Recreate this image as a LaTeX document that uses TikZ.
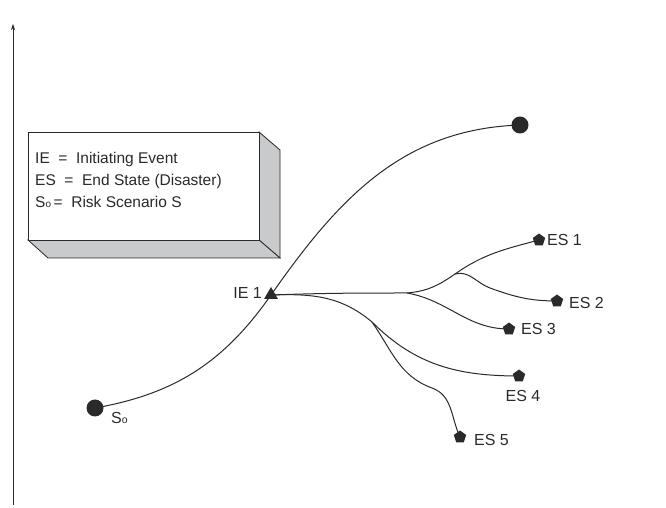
\documentclass[tikz,border=0pt]{standalone}
\usepackage{fontspec}
\setmainfont{Liberation Sans}
\usetikzlibrary{shapes.geometric,arrows.meta}
\definecolor{ink}{HTML}{2A2A2A}
\definecolor{side}{HTML}{C9CACC}
\tikzset{
  conn/.style={draw=ink, line width=1pt},
  dotnode/.style={circle, fill=ink, inner sep=0pt, minimum size=17pt},
  esnode/.style={regular polygon, regular polygon sides=5, fill=ink, inner sep=0pt, minimum size=13pt},
  ienode/.style={regular polygon, regular polygon sides=3, fill=ink, inner sep=0pt, minimum size=16pt},
  lbl/.style={font=\fontsize{16}{18}\selectfont, text=ink, inner sep=0pt},
}
\begin{document}
\begin{tikzpicture}[x=1pt,y=1pt]
\useasboundingbox (0,0) rectangle (666,508);
% axis
\draw[ink, line width=0.8pt, -{Stealth[length=6pt,width=4pt]}] (13,3) -- (13,484);
% legend box
\filldraw[fill=side, draw=ink, line width=0.8pt] (259,376) -- (280,358) -- (280,250) -- (259,268) -- cycle;
\filldraw[fill=side, draw=ink, line width=0.8pt] (28,268) -- (259,268) -- (280,250) -- (48,250) -- cycle;
\filldraw[fill=white, draw=ink, line width=0.8pt] (28,268) rectangle (259,376);
\node[lbl, anchor=north west, align=left, font=\fontsize{15.5}{22}\selectfont] (leg) at (35,356)
  {IE\ \ =\ \ Initiating Event\\ES\ \ =\ \ End State (Disaster)\\S{\fontsize{10}{10}\selectfont o}\,=\ \ Risk Scenario S};
% nodes
\node[dotnode] (s0) at (95,100) {};
\node[dotnode] (top) at (520,383) {};
\node[ienode] (ie) at (271,213) {};
\node[esnode] (es1) at (539,268) {};
\node[esnode] (es2) at (557,207) {};
\node[esnode] (es3) at (509,179) {};
\node[esnode] (es4) at (519,132) {};
\node[esnode] (es5) at (460,71) {};
\coordinate (j1) at (407,215);
\coordinate (j2) at (455,234);
\coordinate (j3) at (372,186);
% labels
\node[lbl, anchor=east] (lie) at (262,215) {IE 1};
\node[lbl, anchor=west] (ls0) at (111,90) {S{\fontsize{10.5}{10}\selectfont o}};
\node[lbl, anchor=west] (l1) at (547,268) {ES 1};
\node[lbl, anchor=west] (l2) at (569,205) {ES 2};
\node[lbl, anchor=west] (l3) at (521,179) {ES 3};
\node[lbl] (l4) at (523,112) {ES 4};
\node[lbl, anchor=west] (l5) at (474,68) {ES 5};
% main path
\draw[conn] (s0.center) to[out=10, in=235] (ie.center) to[out=55, in=182] (top.center);
% branches
\draw[conn] (ie.center) to[out=2, in=180] (j1) to[out=5, in=215] (j2) to[out=35, in=195] (es1.center);
\draw[conn] (j2) to[out=15, in=160] (490,220) to[out=-20, in=180] (es2.center);
\draw[conn] (j1) to[out=-10, in=180] (es3.center);
\draw[conn] (ie.center) to[out=2, in=140] (j3) to[out=-45, in=180] (es4.center);
\draw[conn] (j3) to[out=-55, in=160] (432,120) to[out=-20, in=115] (es5.center);
\end{tikzpicture}
\end{document}
